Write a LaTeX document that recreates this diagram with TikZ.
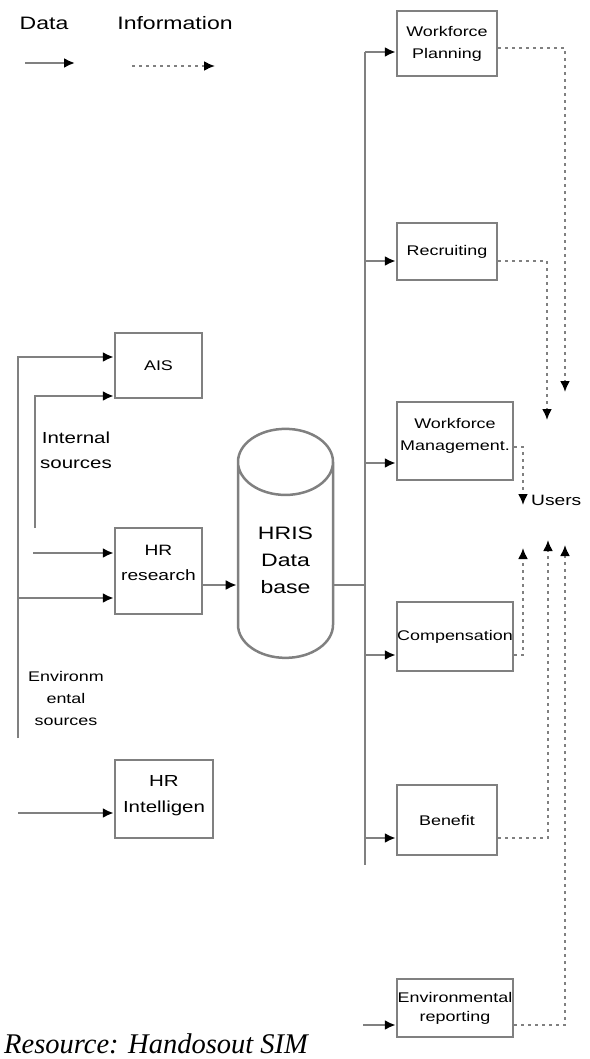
\documentclass[tikz,border=0pt]{standalone}
\usepackage{fontspec}
\newfontfamily\diagfont[FakeStretch=1.28]{Liberation Sans}
\newfontfamily\notefont{Liberation Serif}
\usetikzlibrary{positioning,shapes.geometric,arrows.meta}
\definecolor{linegray}{gray}{0.5}

\begin{document}
\begin{tikzpicture}[
        x=1pt, y=-1pt,
        % define styles
        box/.style={
            draw=linegray,
            line width=2.5pt,
            inner sep=0pt,
            align=center,
            font=\diagfont\fontsize{14}{22}\selectfont
        },
        txt/.style={
            inner sep=0pt,
            align=center,
            font=\diagfont\fontsize{15}{24}\selectfont
        },
        wire/.style={
            draw=linegray,
            line width=2.5pt
        },
        data/.style={
            wire,
            -{Latex[length=11pt,width=10pt,color=black]}
        },
        info/.style={
            draw=linegray,
            line width=2pt,
            dash pattern=on 3pt off 4pt,
            -{Latex[length=11pt,width=10pt,color=black]}
        }
    ]
    \useasboundingbox (0,0) rectangle (589,1059);

    % legend
    \node[txt, font=\diagfont\fontsize{18}{22}\selectfont] (datalbl) at (44,23) {Data};
    \node[txt, font=\diagfont\fontsize{18}{22}\selectfont] (infolbl) at (175,23) {Information};
    \coordinate (dstart) at (25,63);
    \coordinate (dend) at (75,63);
    \coordinate (istart) at (132,66);
    \coordinate (iend) at (215,66);
    \draw[data] (dstart) -- (dend);
    \draw[info] (istart) -- (iend);

    % right column of subsystems
    \node[box, minimum width=100, minimum height=65] (wp) at (447,43.5) {Workforce\\Planning};
    \node[box, minimum width=100, minimum height=57] (rec) at (447,251.5) {Recruiting};
    \node[box, minimum width=116, minimum height=78, text depth=14pt] (wm) at (455,441) {Workforce\\Management.};
    \node[box, minimum width=116, minimum height=69] (comp) at (455,636.5) {Compensation};
    \node[box, minimum width=100, minimum height=70] (ben) at (447,820) {Benefit};
    \node[box, minimum width=116, minimum height=58, font=\diagfont\fontsize{14}{19}\selectfont] (env) at (455,1008) {Environmental\\reporting};

    % left column of sources
    \node[box, minimum width=87, minimum height=65] (ais) at (158.5,365.5) {AIS};
    \node[box, minimum width=87, minimum height=86, text depth=16pt, font=\diagfont\fontsize{15}{25}\selectfont] (hrr) at (158.5,571) {HR\\research};
    \node[box, minimum width=98, minimum height=78, text depth=10pt, font=\diagfont\fontsize{16}{26}\selectfont] (hri) at (164,799) {HR\\Intelligen};
    \node[txt, font=\diagfont\fontsize{16}{25}\selectfont] (intsrc) at (76,450) {Internal\\sources};
    \node[txt, font=\diagfont\fontsize{14}{22}\selectfont] (envsrc) at (66,698) {Environm\\ental\\sources};

    % database
    \node[shape=cylinder, shape border rotate=90, aspect=1.2, draw=linegray, line width=2.5pt,
        minimum width=95, minimum height=229, inner sep=0pt, align=center,
        font=\diagfont\fontsize{18}{27}\selectfont] (hris) at (285.5,560.5) {HRIS\\Data\\base};

    \node[txt, anchor=west] (users) at (531,500) {Users};

    % data bus on the right
    \coordinate (rbtop) at (365,52);
    \coordinate (rbbot) at (365,865);
    \draw[wire] (rbtop) -- (rbbot);
    \foreach \bx/\by in {wp/52, rec/261, wm/463, comp/655, ben/838}
        \draw[data] (rbtop |- 0,\by) -- (\bx.west |- 0,\by);
    \draw[wire] (hris.east |- 0,585) -- (rbtop |- 0,585);
    \coordinate (envin) at (363,1025);
    \draw[data] (envin) -- (env.west |- envin);

    % data lines on the left
    \coordinate (lbtop) at (18,357);
    \coordinate (lbbot) at (18,738);
    \draw[data] (lbbot) -- (lbtop) -- (ais.west |- lbtop);
    \coordinate (ibot) at (35,528);
    \coordinate (itop) at (35,396);
    \draw[data] (ibot) -- (itop) -- (ais.west |- itop);
    \coordinate (hrin) at (33,553);
    \draw[data] (hrin) -- (hrr.west |- hrin);
    \draw[data] (lbtop |- 0,598) -- (hrr.west |- 0,598);
    \draw[data] (hrr.east |- 0,585) -- (hris.west |- 0,585);
    \coordinate (hriin) at (18,813);
    \draw[data] (hriin) -- (hri.west |- hriin);

    % information to users
    \coordinate (uwp) at (565,392);
    \coordinate (urec) at (547,420);
    \coordinate (uwm) at (523,505);
    \coordinate (ucomp) at (523,548);
    \coordinate (uben) at (548,540);
    \coordinate (uenv) at (565,545);
    \foreach \bx/\by/\ux in {wp/48/uwp, rec/261/urec, wm/447/uwm, comp/655/ucomp, ben/838/uben, env/1025/uenv}
        \draw[info] (\bx.east |- 0,\by) -| (\ux);

    % source note
    \node[anchor=base west, inner sep=0pt, font=\notefont\itshape\fontsize{28.5}{30}\selectfont] (srcnote) at (4,1053) {Resource: Handosout SIM};
\end{tikzpicture}
\end{document}
